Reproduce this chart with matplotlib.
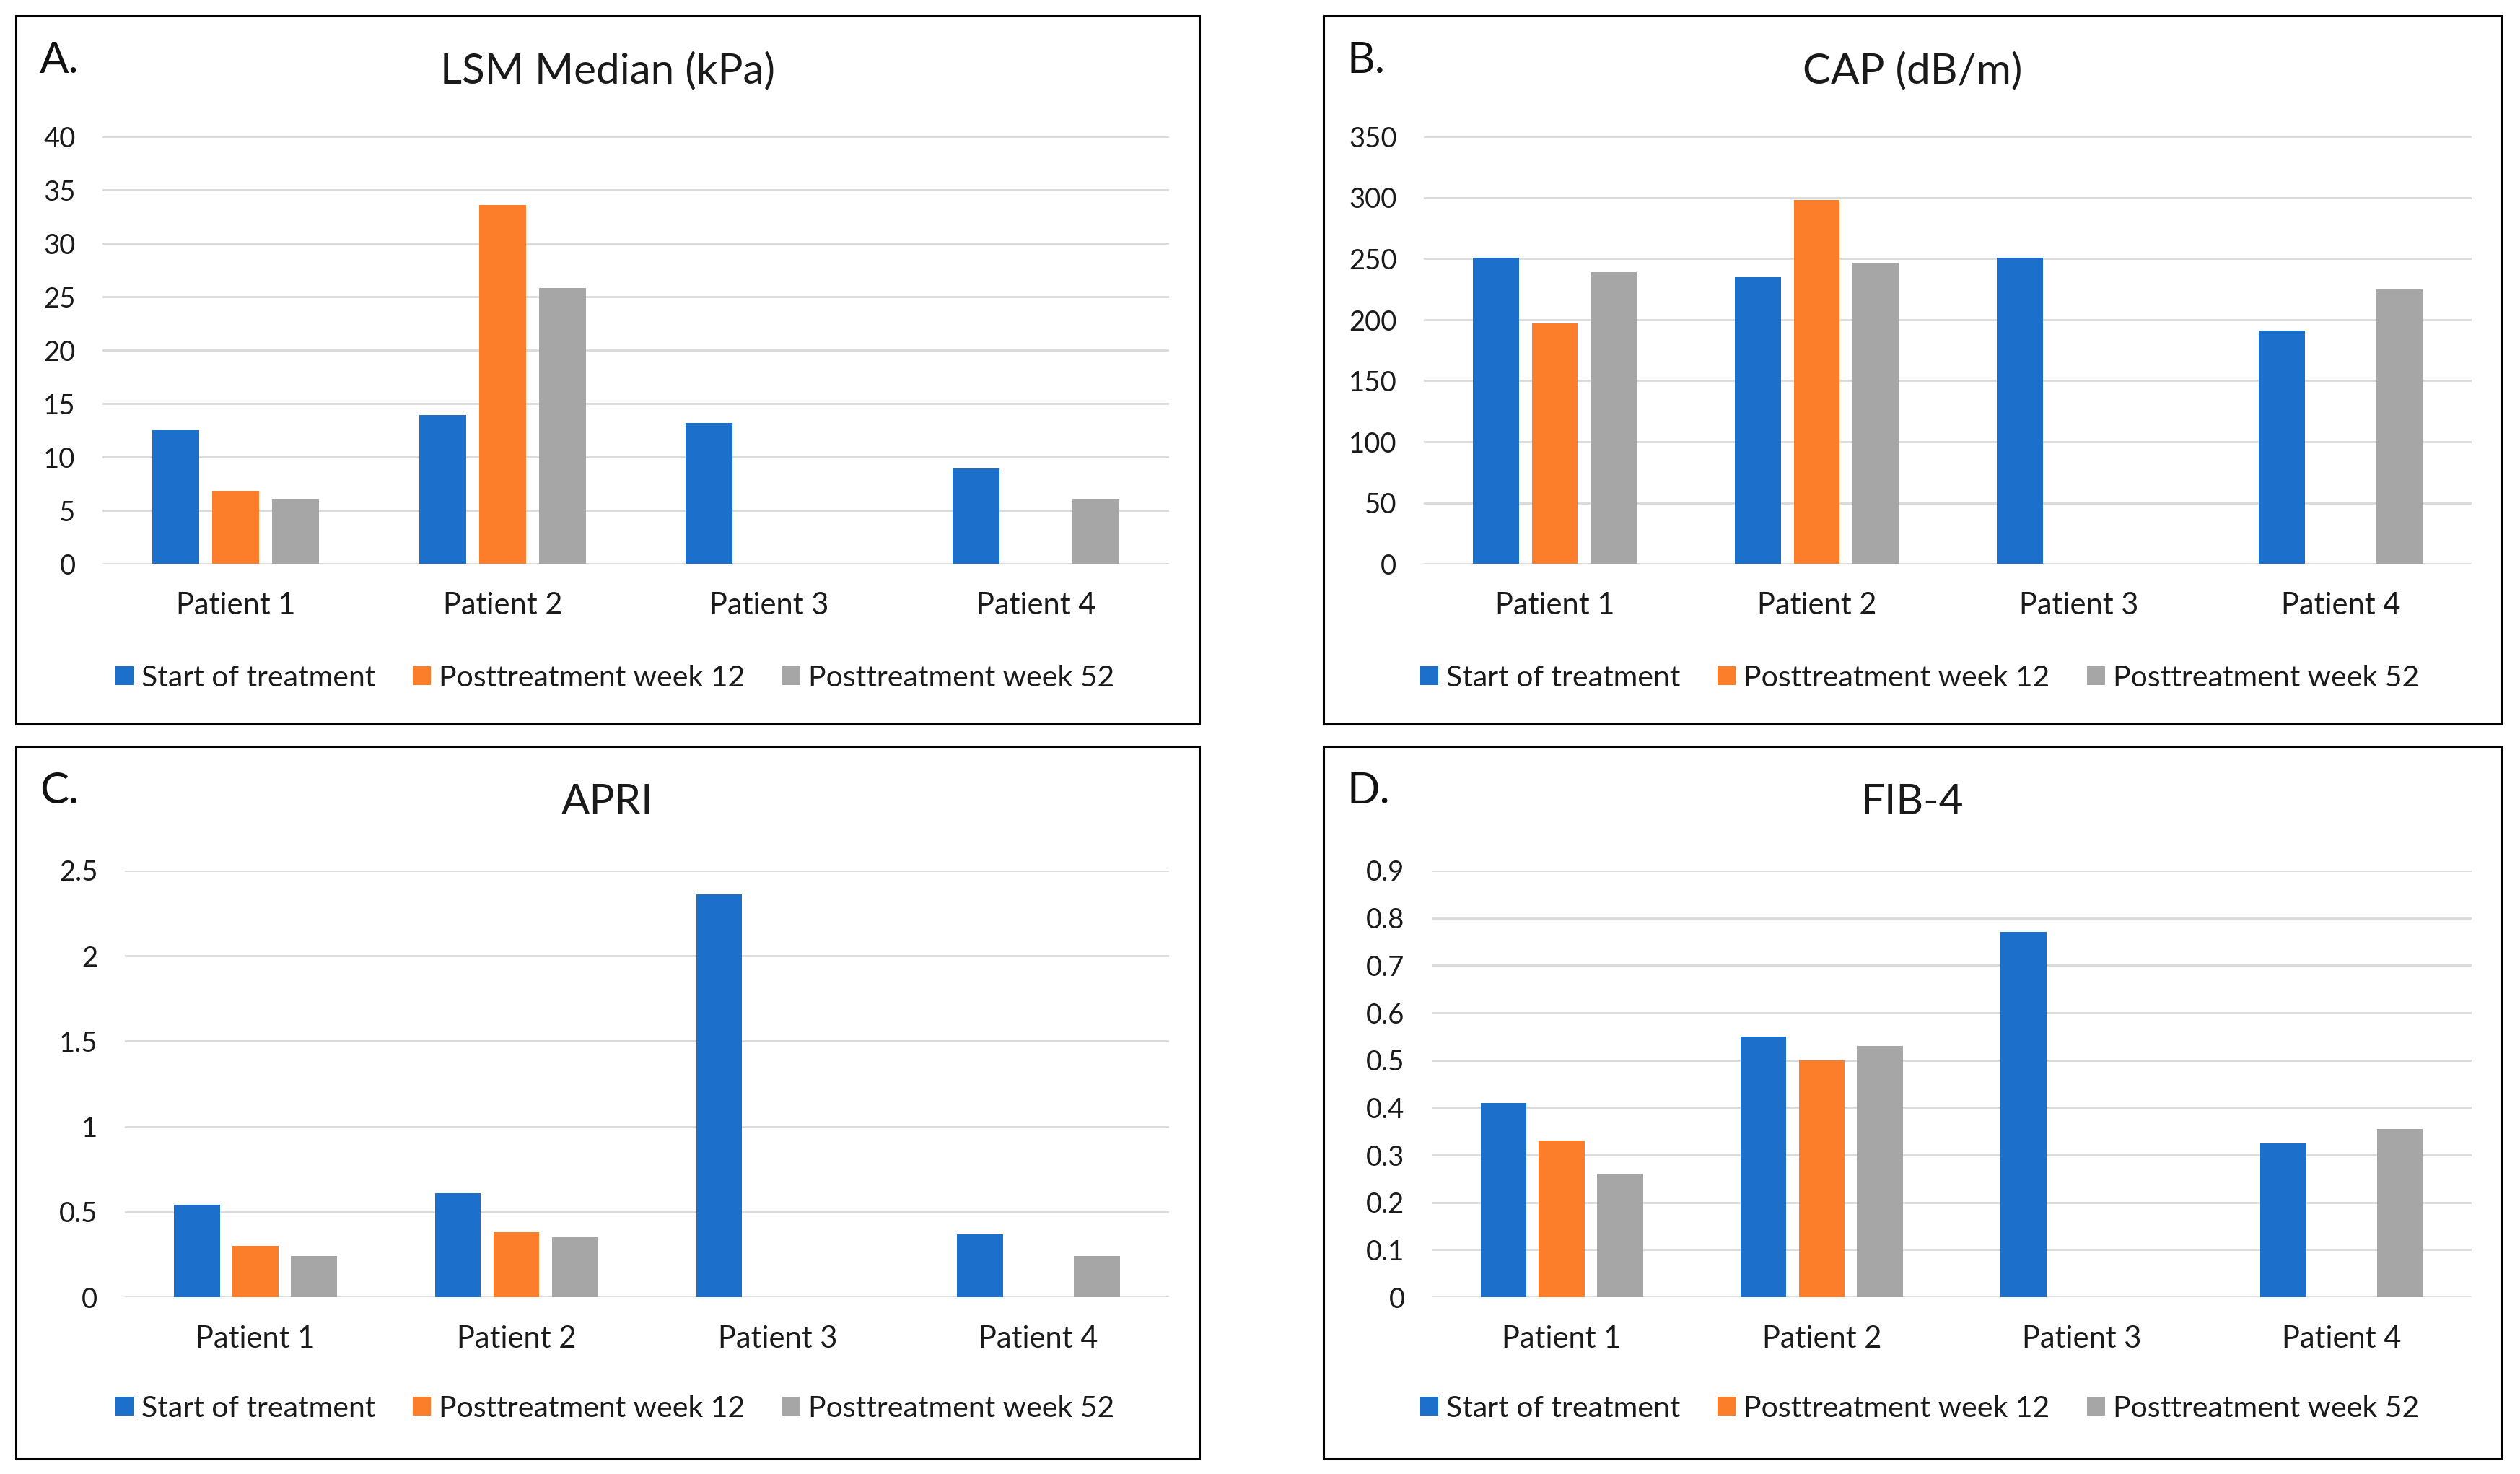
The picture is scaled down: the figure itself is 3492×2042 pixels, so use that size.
"""Four-panel bar chart: liver stiffness and fibrosis scores per patient."""

import matplotlib

matplotlib.use("Agg")
import matplotlib.pyplot as plt
import numpy as np
from matplotlib.patches import Rectangle

nan = np.nan

categories = ["Patient 1", "Patient 2", "Patient 3", "Patient 4"]
series_names = ["Start of treatment", "Posttreatment week 12", "Posttreatment week 52"]
colors = ["#1C6FCB", "#FD7E2A", "#A6A6A6"]

lsm_start = [12.5, 13.9, 13.2, 8.9]
lsm_w12 = [6.8, 33.6, nan, nan]
lsm_w52 = [6.1, 25.8, nan, 6.1]

cap_start = [251, 235, 251, 191]
cap_w12 = [197, 298, nan, nan]
cap_w52 = [239, 247, nan, 225]

apri_start = [0.54, 0.61, 2.36, 0.37]
apri_w12 = [0.30, 0.38, nan, nan]
apri_w52 = [0.24, 0.35, nan, 0.24]

fib4_start = [0.41, 0.55, 0.77, 0.325]
fib4_w12 = [0.33, 0.50, nan, nan]
fib4_w52 = [0.26, 0.53, nan, 0.355]

W, H = 3492, 2042
plt.rcParams["font.family"] = ["Lato", "DejaVu Sans"]
fig = plt.figure(figsize=(W / 100, H / 100), dpi=100)


def fx(px):
    return px / W


def fy(py):
    return 1 - py / H


def panel(box, axes_px, letter, title, series, yticks, ymax):
    bx0, by0, bx1, by1 = box
    ax0, ay0, ax1, ay1 = axes_px

    # outer frame around each panel
    fig.add_artist(Rectangle((fx(bx0), fy(by1)), fx(bx1) - fx(bx0), fy(by0) - fy(by1),
                             transform=fig.transFigure, fill=False, edgecolor="black",
                             linewidth=2.2))

    ax = fig.add_axes([fx(ax0), fy(ay1), fx(ax1) - fx(ax0), fy(ay0) - fy(ay1)])
    x = np.arange(len(categories))
    offsets = [-0.224, 0, 0.224]
    handles = []
    for vals, off, col, name in zip(series, offsets, colors, series_names):
        h = ax.bar(x + off, vals, width=0.176, color=col, label=name, zorder=3)
        handles.append(h)

    ax.set_xlim(-0.5, len(categories) - 0.5)
    ax.set_ylim(0, ymax)
    ax.set_yticks(yticks)
    ax.set_yticklabels([f"{t:g}" for t in yticks])
    ax.set_xticks(x)
    ax.set_xticklabels(categories)
    ax.tick_params(axis="y", length=0, pad=27, labelsize=27.5, labelcolor="#1a1a1a")
    ax.tick_params(axis="x", length=0, pad=28, labelsize=30, labelcolor="#1a1a1a")
    ax.grid(axis="y", color="#D9D9D9", linewidth=2.0, zorder=0)
    for s in ax.spines.values():
        s.set_visible(False)

    cx = (bx0 + bx1) / 2
    fig.text(fx(cx), fy(by0 + 77), title, ha="center", va="center",
             fontsize=42, color="#1a1a1a")
    fig.text(fx(bx0 + 33), fy(by0 + 62), letter, ha="left", va="center",
             fontsize=43, color="#111111")

    ax.legend(handles=handles, ncol=3, loc="center",
              bbox_to_anchor=(fx(cx + 10), fy(by0 + 917)),
              bbox_transform=fig.transFigure, frameon=False, fontsize=29.5,
              handlelength=0.62, handleheight=0.62, handletextpad=0.27,
              columnspacing=1.25, labelcolor="#1a1a1a")
    return ax


panel((22, 22, 1662, 1003), (142, 189.5, 1620, 781), "A.", "LSM Median (kPa)",
      [lsm_start, lsm_w12, lsm_w52], np.arange(0, 41, 5), 40)
panel((1834, 22, 3466, 1003), (1973, 189.5, 3425, 781), "B.", "CAP (dB/m)",
      [cap_start, cap_w12, cap_w52], np.arange(0, 351, 50), 350)
panel((22, 1034, 1662, 2021), (173, 1206, 1620, 1797), "C.", "APRI",
      [apri_start, apri_w12, apri_w52], [0, 0.5, 1, 1.5, 2, 2.5], 2.5)
panel((1834, 1034, 3466, 2021), (1984, 1206, 3425, 1797), "D.", "FIB-4",
      [fib4_start, fib4_w12, fib4_w52], [round(v, 1) for v in np.arange(0, 0.91, 0.1)], 0.9)

plt.savefig("out.png", dpi=100, facecolor="white")
plt.close()
